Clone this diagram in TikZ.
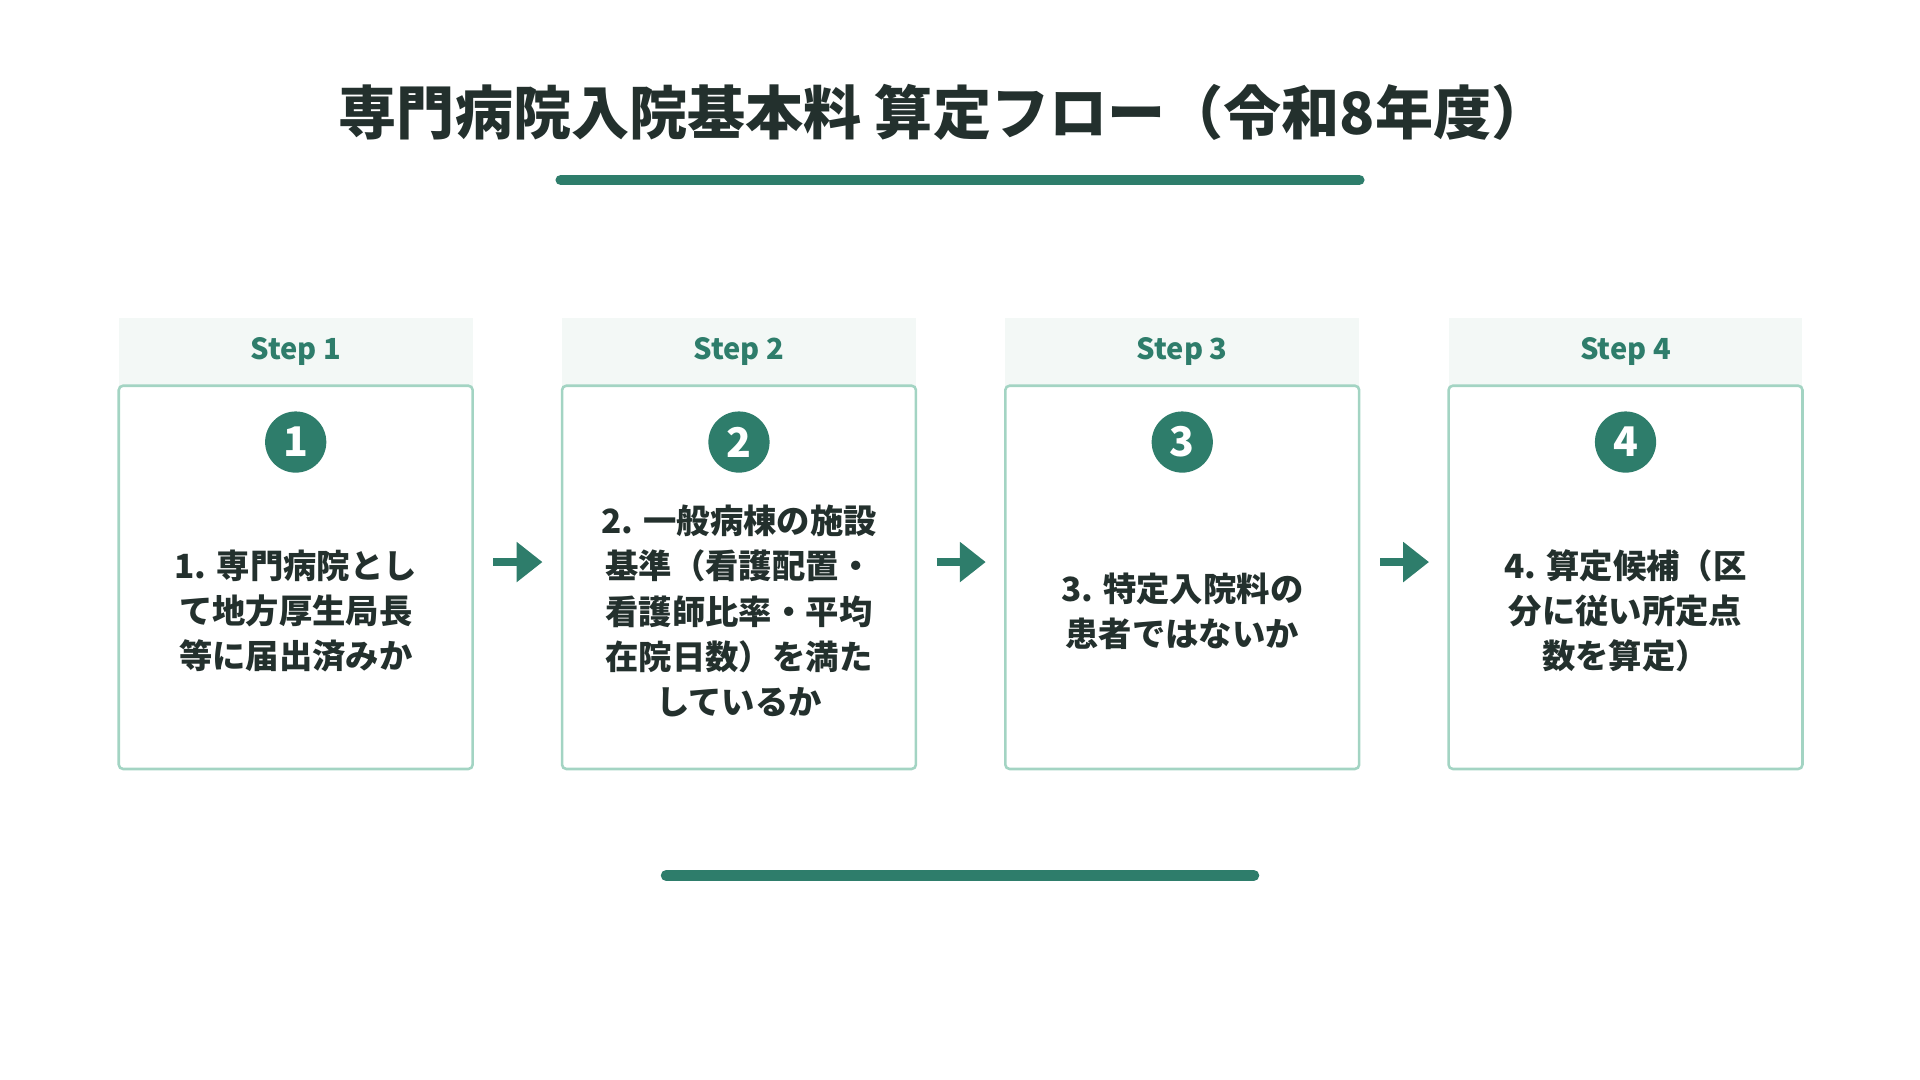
\documentclass[tikz,border=0pt]{standalone}
\usepackage{fontspec}
\setmainfont{Noto Sans CJK JP}
\usetikzlibrary{arrows.meta}
\definecolor{teal}{HTML}{2E7D6B}
\definecolor{edge}{HTML}{A3D4C3}
\definecolor{band}{HTML}{F3F8F6}
\definecolor{ink}{HTML}{23302D}
\tikzset{
  stepbox/.style={draw=edge,line width=1.2pt,rounded corners=2pt},
  steplab/.style={text=teal,font=\bfseries\fontsize{13.5}{16}\selectfont},
  num/.style={circle,fill=teal,text=white,minimum size=1cm,inner sep=0pt,font=\bfseries\fontsize{19}{22}\selectfont},
  body/.style={text=ink,align=center,font=\bfseries\fontsize{15.5}{21}\selectfont},
  flow/.style={-{Triangle[length=12pt,width=18pt]},line width=4pt,teal},
  rule/.style={teal,line width=5pt,line cap=round}
}
\begin{document}
\begin{tikzpicture}[x=0.02cm,y=-0.02cm]
  \useasboundingbox (0,0) rectangle (1568,882);
  \node[text=ink,font=\bfseries\fontsize{27}{30}\selectfont] (title) at (771,92) {専門病院入院基本料 算定フロー（令和8年度）};
  \draw[rule] (458,147) -- (1110,147);
  \foreach \x/\n/\t in {
    97/1/{1. 専門病院とし\\て地方厚生局長\\等に届出済みか},
    459/2/{2. 一般病棟の施設\\基準（看護配置・\\看護師比率・平均\\在院日数）を満た\\しているか},
    821/3/{3. 特定入院料の\\患者ではないか},
    1183/4/{4. 算定候補（区\\分に従い所定点\\数を算定）}} {
    \fill[band] (\x,260) rectangle ++(289,55);
    \draw[stepbox] (\x,315) rectangle ++(289,313);
    \node[steplab] (lab\n) at ({\x+144.5},287) {Step \n};
    \node[num] (num\n) at ({\x+144.5},361) {\n};
    \node[body] (box\n) at ({\x+144.5},499) {\t};
  }
  \foreach \x in {403,765,1127} {
    \coordinate (a) at (\x,459);
    \coordinate (b) at ({\x+40},459);
    \draw[flow] (a) -- (b);
  }
  \draw[rule] (544,715) -- (1024,715);
\end{tikzpicture}
\end{document}
